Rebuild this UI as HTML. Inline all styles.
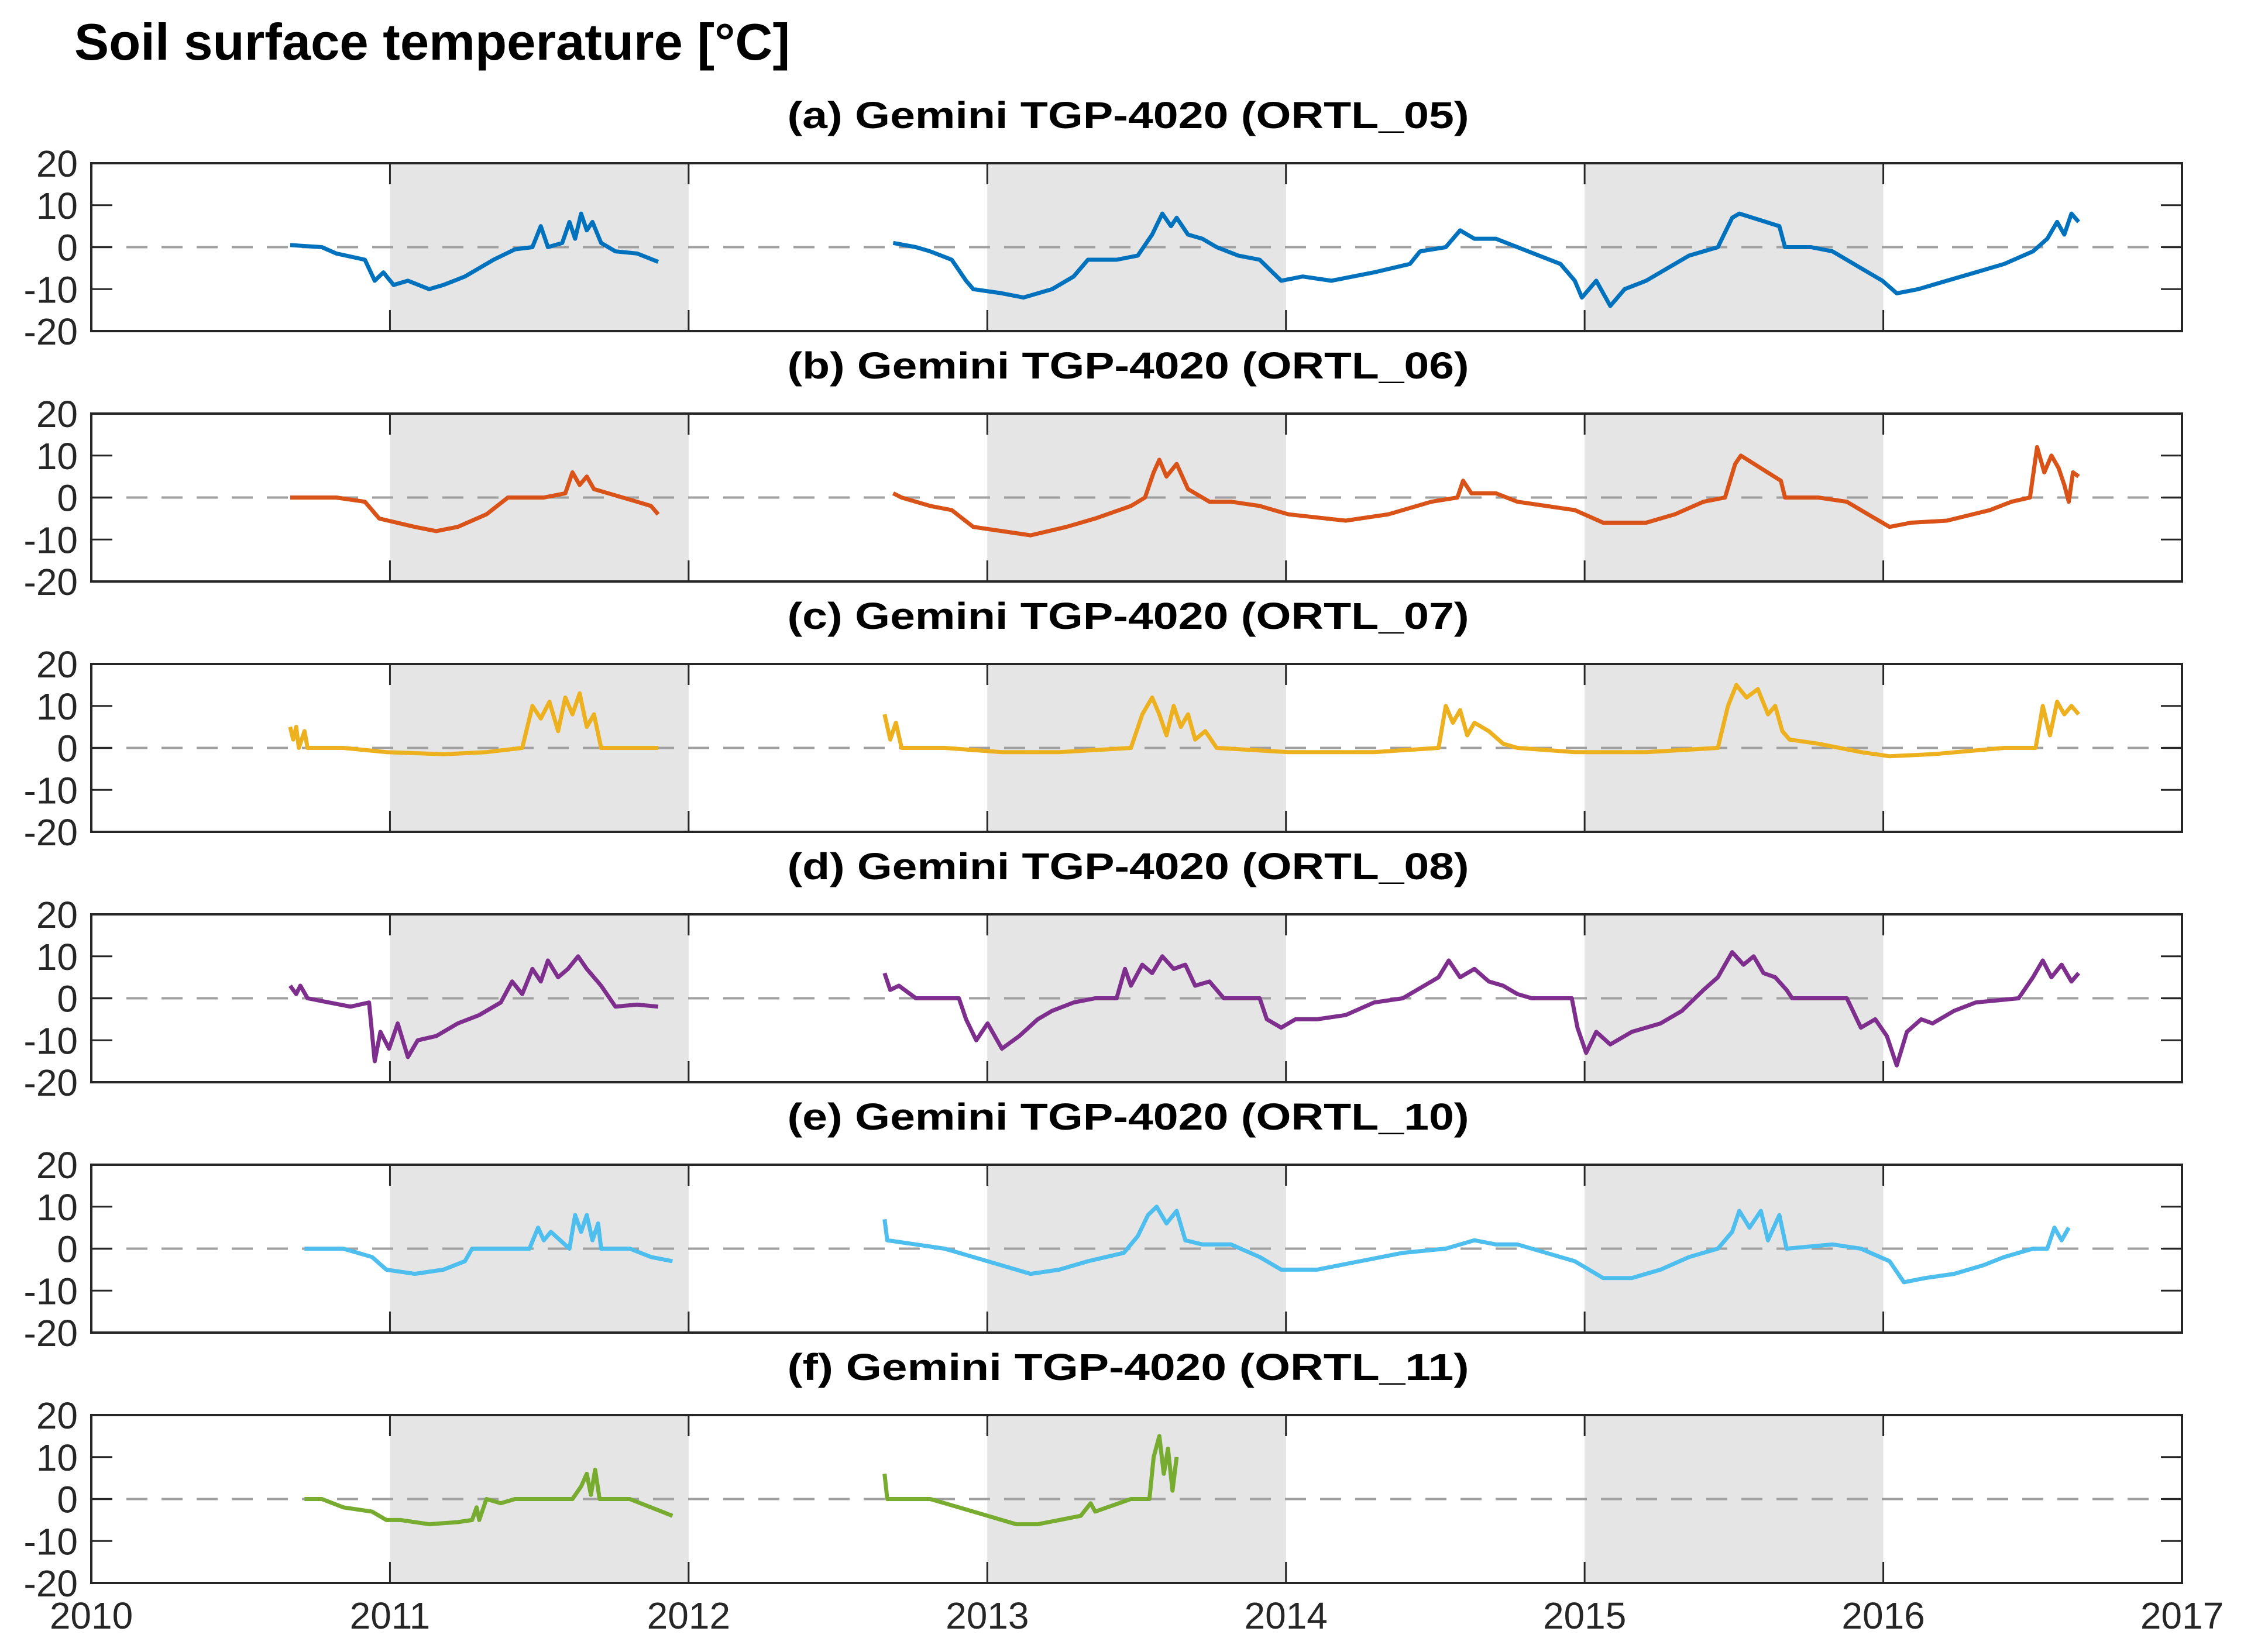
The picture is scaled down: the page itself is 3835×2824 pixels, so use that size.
<!DOCTYPE html>
<html><head><meta charset="utf-8"><style>
html,body{margin:0;padding:0;background:#fff;}
svg{display:block;}
text{font-family:"Liberation Sans",Arial,sans-serif;}
</style></head><body>
<svg id="chart" width="3835" height="2824" viewBox="0 0 3835 2824" xmlns="http://www.w3.org/2000/svg">
<text x="127" y="102" font-size="88" font-weight="bold" fill="#000" textLength="1223" lengthAdjust="spacingAndGlyphs">Soil surface temperature [°C]</text>
<g id="panels"></g>
</svg>
<script>
// ---------- data ----------
const xTickYears = [2010, 2011, 2012, 2013, 2014, 2015, 2016, 2017];
const shadedYears = [2011, 2013, 2015];
const yTicks = [20, 10, 0, -10, -20];
const panelTitles = ["(a) Gemini TGP-4020 (ORTL_05)","(b) Gemini TGP-4020 (ORTL_06)","(c) Gemini TGP-4020 (ORTL_07)","(d) Gemini TGP-4020 (ORTL_08)","(e) Gemini TGP-4020 (ORTL_10)","(f) Gemini TGP-4020 (ORTL_11)"];
const seriesColors = ["#0072BD","#D95319","#EDB120","#7E2F8E","#4DBEEE","#77AC30"];

const tA = [2010.666,2010.772,2010.820,2010.916,2010.949,2010.978,2011.012,2011.060,2011.131,2011.179,2011.251,2011.299,2011.347,2011.419,2011.477,2011.505,2011.529,2011.577,2011.601,2011.620,2011.640,2011.659,2011.678,2011.707,2011.755,2011.827,2011.898,
 2012.685,2012.761,2012.809,2012.881,2012.929,2012.953,2013.049,2013.121,2013.217,2013.289,2013.337,2013.433,2013.504,2013.552,2013.586,2013.615,2013.634,2013.672,2013.720,2013.768,2013.840,2013.912,2013.984,2014.056,2014.152,2014.295,2014.415,2014.449,2014.535,2014.583,2014.631,2014.703,2014.775,2014.847,2014.919,2014.967,2014.991,2015.039,2015.086,2015.134,2015.206,2015.278,2015.350,2015.446,2015.494,2015.518,
 2015.652,2015.671,2015.758,2015.830,2015.925,2015.997,2016.045,2016.117,2016.213,2016.309,2016.405,2016.501,2016.549,2016.582,2016.606,2016.630,2016.654];
const vA = [0.5,0,-1.5,-3,-8,-6,-9,-8,-10,-9,-7,-5,-3,-0.5,0,5,0,1,6,2,8,4,6,1,-1,-1.5,-3.5,
 1,0,-1,-3,-8,-10,-11,-12,-10,-7,-3,-3,-2,3,8,5,7,3,2,0,-2,-3,-8,-7,-8,-6,-4,-1,0,4,2,2,0,-2,-4,-8,-12,-8,-14,-10,-8,-5,-2,0,7,8,
 5,0,0,-1,-5,-8,-11,-10,-8,-6,-4,-1,2,6,3,8,6];

const tB = [2010.666,2010.820,2010.916,2010.964,2011.083,2011.155,2011.227,2011.323,2011.395,2011.515,2011.587,2011.611,2011.635,2011.659,2011.683,2011.731,2011.827,2011.874,2011.898,
 2012.685,2012.713,2012.809,2012.881,2012.953,2013.049,2013.145,2013.265,2013.361,2013.481,2013.528,2013.557,2013.576,2013.600,2013.634,2013.672,2013.744,2013.816,2013.912,2014.008,2014.200,2014.343,2014.487,2014.574,2014.593,2014.621,2014.703,2014.775,2014.871,2014.967,2015.062,2015.206,2015.302,2015.398,2015.470,2015.504,2015.523,
 2015.657,2015.671,2015.782,2015.878,2015.949,2016.021,2016.093,2016.213,2016.357,2016.429,2016.491,2016.515,2016.539,2016.563,2016.587,2016.606,2016.621,2016.635,2016.654];
const vB = [0,0,-1,-5,-7,-8,-7,-4,0,0,1,6,3,5,2,1,-1,-2,-4,
 1,0,-2,-3,-7,-8,-9,-7,-5,-2,0,6,9,5,8,2,-1,-1,-2,-4,-5.5,-4,-1,0,4,1,1,-1,-2,-3,-6,-6,-4,-1,0,8,10,
 4,0,0,-1,-4,-7,-6,-5.5,-3,-1,0,12,6,10,7,3,-1,6,5];

const tC = [2010.666,2010.676,2010.686,2010.695,2010.714,2010.724,2010.844,2010.988,2011.179,2011.323,2011.443,2011.477,2011.505,2011.534,2011.563,2011.587,2011.611,2011.635,2011.659,2011.683,2011.707,2011.803,2011.898,
 2012.656,2012.675,2012.694,2012.713,2012.857,2013.049,2013.241,2013.481,2013.519,2013.552,2013.576,2013.600,2013.624,2013.648,2013.672,2013.696,2013.730,2013.768,2014.008,2014.295,2014.511,2014.535,2014.559,2014.583,2014.607,2014.631,2014.679,2014.727,2014.775,2014.967,2015.206,2015.446,2015.480,2015.508,2015.542,2015.580,2015.614,2015.638,2015.662,2015.686,2015.782,2015.925,2016.021,2016.165,2016.405,2016.510,2016.534,2016.558,2016.582,2016.606,2016.630,2016.654];
const vC = [5,2,5,0,4,0,0,-1,-1.5,-1,0,10,7,11,4,12,8,13,5,8,0,0,0,
 8,2,6,0,0,-1,-1,0,8,12,8,3,10,5,8,2,4,0,-1,-1,0,10,6,9,3,6,4,1,0,-1,-1,0,10,15,12,14,8,10,4,2,1,-1,-2,-1.5,0,0,10,3,11,8,10,8];

const tD = [2010.666,2010.686,2010.700,2010.724,2010.796,2010.868,2010.930,2010.949,2010.968,2010.997,2011.026,2011.060,2011.093,2011.155,2011.227,2011.299,2011.371,2011.409,2011.443,2011.477,2011.505,2011.529,2011.563,2011.596,2011.630,2011.659,2011.707,2011.755,2011.827,2011.898,
 2012.656,2012.675,2012.704,2012.761,2012.905,2012.929,2012.963,2013.001,2013.049,2013.107,2013.169,2013.217,2013.289,2013.361,2013.433,2013.461,2013.481,2013.519,2013.552,2013.586,2013.624,2013.663,2013.696,2013.744,2013.792,2013.912,2013.936,2013.984,2014.032,2014.104,2014.200,2014.295,2014.391,2014.463,2014.511,2014.545,2014.583,2014.631,2014.679,2014.727,2014.775,2014.823,2014.957,2014.976,2015.005,2015.039,2015.086,2015.158,2015.254,2015.326,2015.398,2015.446,2015.494,2015.532,2015.566,2015.599,2015.638,2015.676,2015.695,2015.878,2015.925,2015.973,2016.012,2016.045,2016.079,2016.127,2016.165,2016.237,2016.309,2016.453,2016.501,2016.534,2016.563,2016.597,2016.630,2016.654];
const vD = [3,1,3,0,-1,-2,-1,-15,-8,-12,-6,-14,-10,-9,-6,-4,-1,4,1,7,4,9,5,7,10,7,3,-2,-1.5,-2,
 6,2,3,0,0,-5,-10,-6,-12,-9,-5,-3,-1,0,0,7,3,8,6,10,7,8,3,4,0,0,-5,-7,-5,-5,-4,-1,0,3,5,9,5,7,4,3,1,0,0,-7,-13,-8,-11,-8,-6,-3,2,5,11,8,10,6,5,2,0,0,-7,-5,-9,-16,-8,-5,-6,-3,-1,0,5,9,5,8,4,6];

const tE = [2010.714,2010.844,2010.940,2010.988,2011.083,2011.179,2011.251,2011.275,2011.467,2011.496,2011.515,2011.539,2011.601,2011.620,2011.640,2011.659,2011.678,2011.697,2011.707,2011.803,2011.874,2011.946,
 2012.656,2012.665,2012.761,2012.857,2012.953,2013.049,2013.145,2013.241,2013.337,2013.457,2013.504,2013.538,2013.567,2013.600,2013.634,2013.663,2013.720,2013.816,2013.912,2013.984,2014.104,2014.248,2014.391,2014.535,2014.631,2014.703,2014.775,2014.871,2014.967,2015.062,2015.158,2015.254,2015.350,2015.446,2015.494,2015.518,2015.552,2015.590,2015.614,2015.652,2015.676,2015.830,2015.925,2016.021,2016.069,2016.141,2016.237,2016.333,2016.405,2016.501,2016.549,2016.573,2016.597,2016.621];
const vE = [0,0,-2,-5,-6,-5,-3,0,0,5,2,4,0,8,4,8,2,6,0,0,-2,-3,
 7,2,1,0,-2,-4,-6,-5,-3,-1,3,8,10,6,9,2,1,1,-2,-5,-5,-3,-1,0,2,1,1,-1,-3,-7,-7,-5,-2,0,4,9,5,9,2,8,0,1,0,-3,-8,-7,-6,-4,-2,0,0,5,2,5];

const tF = [2010.714,2010.772,2010.844,2010.940,2010.988,2011.036,2011.131,2011.227,2011.275,2011.290,2011.299,2011.323,2011.371,2011.419,2011.611,2011.640,2011.659,2011.673,2011.687,2011.702,2011.803,2011.874,2011.946,
 2012.656,2012.665,2012.809,2012.905,2013.001,2013.097,2013.169,2013.241,2013.313,2013.346,2013.361,2013.481,2013.543,2013.557,2013.576,2013.591,2013.605,2013.620,2013.634];
const vF = [0,0,-2,-3,-5,-5,-6,-5.5,-5,-2,-5,0,-1,0,0,3,6,1,7,0,0,-2,-4,
 6,0,0,-2,-4,-6,-6,-5,-4,-1,-3,0,0,10,15,6,12,2,10];

const seriesTimes = [tA,tB,tC,tD,tE,tF];
const seriesValues = [vA,vB,vC,vD,vE,vF];

// ---------- layout ----------
const NS = "http://www.w3.org/2000/svg";
const X0 = 156, X1 = 3729, T0 = 2010, T1 = 2017;
const PH = 287, PTOP = 279, PSTEP = 428;
const xScale = t => X0 + (t - T0) / (T1 - T0) * (X1 - X0);
const yScaleFor = i => v => PTOP + i*PSTEP + (20 - v) / 40 * PH;

function mk(tag, attrs, parent) {
  const e = document.createElementNS(NS, tag);
  for (const k in attrs) e.setAttribute(k, attrs[k]);
  parent.appendChild(e);
  return e;
}
const root = document.getElementById("panels");

for (let i = 0; i < 6; i++) {
  const top = PTOP + i*PSTEP, bot = top + PH;
  const ys = yScaleFor(i);
  const g = mk("g", {}, root);
  
  

  const title = mk("text", {x: 1928, y: 219 + i*PSTEP, "text-anchor": "middle", "font-size": 64, "font-weight": "bold", fill: "#000", textLength: 1165, lengthAdjust: "spacingAndGlyphs"}, g);
  title.textContent = panelTitles[i];
  
  

  for (const yr of shadedYears) {
    const r = mk("rect", {x: xScale(yr), y: top, width: xScale(yr+1) - xScale(yr), height: PH, fill: "#e5e5e5"}, g);
    
    
  }

  const zl = mk("line", {x1: X0, x2: X1, y1: ys(0), y2: ys(0), stroke: "#a0a0a0", "stroke-width": 4, "stroke-dasharray": "36 24"}, g);
  
  

  const ts = seriesTimes[i], vs = seriesValues[i];
  let d = "";
  for (let k = 0; k < ts.length; k++) {
    const cmd = (k === 0 || ts[k] - ts[k-1] > 0.3) ? "M" : "L";
    d += cmd + xScale(ts[k]).toFixed(1) + "," + ys(vs[k]).toFixed(1);
  }
  const p = mk("path", {d: d, fill: "none", stroke: seriesColors[i], "stroke-width": 7, "stroke-linejoin": "round"}, g);
  
  

  for (const yr of xTickYears) {
    const x = xScale(yr);
    mk("line", {x1: x, x2: x, y1: top, y2: top + 36, stroke: "#262626", "stroke-width": 3}, g);
    mk("line", {x1: x, x2: x, y1: bot, y2: bot - 36, stroke: "#262626", "stroke-width": 3}, g);
  }
  for (const v of yTicks) {
    const y = ys(v);
    mk("line", {x1: X0, x2: X0 + 36, y1: y, y2: y, stroke: "#262626", "stroke-width": 3}, g);
    mk("line", {x1: X1, x2: X1 - 36, y1: y, y2: y, stroke: "#262626", "stroke-width": 3}, g);
    const lt = mk("text", {x: 133, y: y + 23, "text-anchor": "end", "font-size": 64, fill: "#262626"}, g);
    lt.textContent = String(v);
    
    
  }
  const box = mk("rect", {x: X0, y: top, width: X1 - X0, height: PH, fill: "none", stroke: "#262626", "stroke-width": 4}, g);
  
  

  if (i === 5) {
    for (const yr of xTickYears) {
      const xt = mk("text", {x: xScale(yr), y: 2784, "text-anchor": "middle", "font-size": 64, fill: "#262626"}, g);
      xt.textContent = String(yr);
      
      
    }
  }
}
</script>
</body></html>
